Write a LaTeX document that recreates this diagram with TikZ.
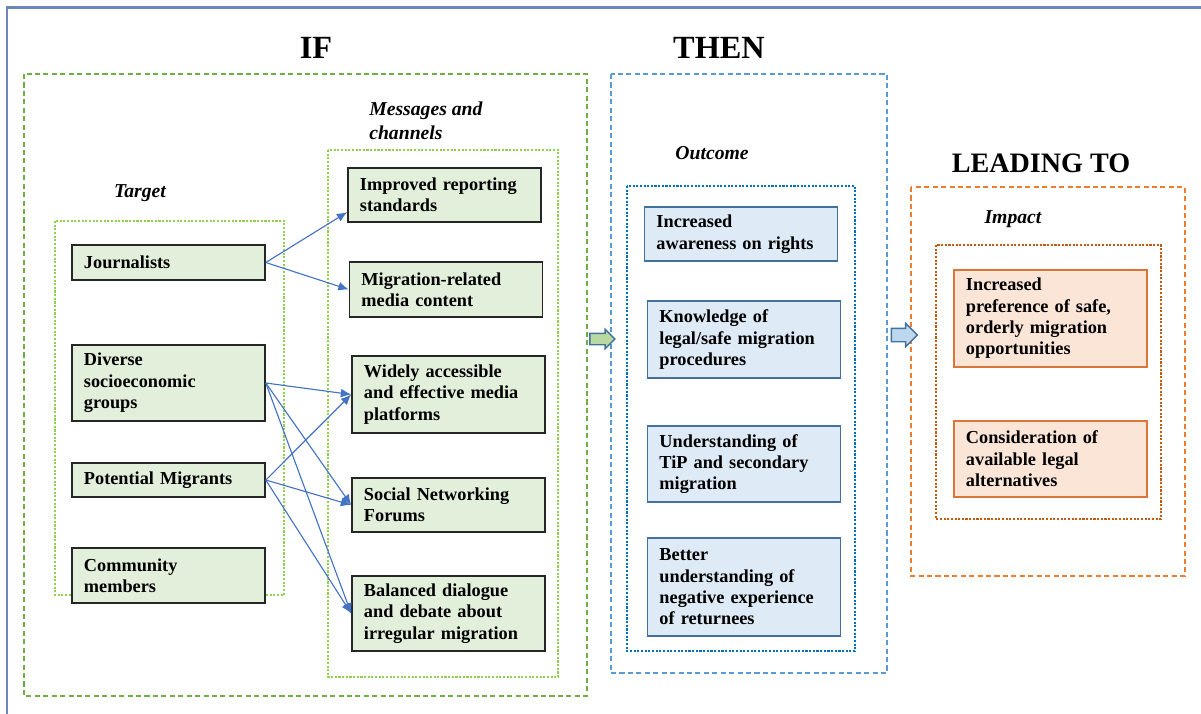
\documentclass[tikz,border=0pt]{standalone}
\usepackage{fontspec}
\setmainfont{Liberation Serif}
\usetikzlibrary{arrows.meta, positioning, shapes.arrows}

\definecolor{boxgreen}{HTML}{E2EFDA}
\definecolor{boxblue}{HTML}{DEEBF7}
\definecolor{boxorange}{HTML}{FBE5D6}
\definecolor{linkblue}{HTML}{4472C4}
\definecolor{edgeblue}{HTML}{41719C}
\definecolor{edgeorange}{HTML}{D9773A}
\definecolor{frameblue}{HTML}{6F87B8}
\definecolor{dashgreen}{HTML}{70AD47}
\definecolor{dotgreen}{HTML}{92D050}
\definecolor{dashblue}{HTML}{5B9BD5}
\definecolor{dotblue}{HTML}{0070C0}
\definecolor{dashorange}{HTML}{ED7D31}
\definecolor{dotorange}{HTML}{C55A11}
\definecolor{bigarrowgreen}{HTML}{B8D9A0}
\definecolor{bigarrowblue}{HTML}{BDD7EE}

\tikzset{
  item/.style={rectangle, line width=1.1pt, text width=4.225cm, inner xsep=0.3cm,
    inner ysep=0pt, align=left, font=\bfseries\fontsize{13}{15.2}\selectfont},
  gitem/.style={item, draw=black!85, fill=boxgreen},
  bitem/.style={item, draw=edgeblue, fill=boxblue},
  oitem/.style={item, draw=edgeorange, fill=boxorange},
  title/.style={font=\bfseries\fontsize{23}{23}\selectfont},
  label/.style={font=\bfseries\itshape\fontsize{14}{17}\selectfont, align=left},
  dashframe/.style={line width=0.9pt, dash pattern=on 3.6pt off 2.4pt},
  dotframe/.style={line width=1.8pt, dash pattern=on 1.5pt off 1.1pt},
  bigarrow/.style={single arrow, draw=edgeblue, line width=1pt, inner xsep=0pt},
}

\begin{document}
\begin{tikzpicture}[x=0.025cm, y=-0.025cm]
\useasboundingbox (0,0) rectangle (1201,713);

\draw[frameblue, line width=1.5pt] (7,730) -- (7,7.5) -- (1215,7.5);

%Frames:
\draw[dashframe, dashgreen] (24,74) rectangle (587,696);
\draw[dotframe, dotgreen] (55,221) rectangle (284,595);
\draw[dotframe, dotgreen] (328,150) rectangle (558,677);
\draw[dashframe, dashblue] (611,74) rectangle (887,673);
\draw[dotframe, dotblue] (627,186) rectangle (855,651);
\draw[dashframe, dashorange] (911,187) rectangle (1185,576);
\draw[dotframe, dotorange] (936,245) rectangle (1161,519);

%Titles:
\node (IF) [title] at (316,48) {IF};
\node (THEN) [title] at (719,48) {THEN};
\node (LEAD) [title, font=\bfseries\fontsize{20}{20}\selectfont] at (1041,163) {LEADING TO};
\node (TG) [label] at (140,193) {Target};
\node (MC) [label, anchor=west, inner xsep=0pt] at (369,121) {Messages and\\channels};
\node (OC) [label] at (712,153) {Outcome};
\node (IM) [label] at (1013,219) {Impact};

%Target:
\node (J) [gitem, minimum height=0.875cm] at (168.5,262.5) {Journalists};
\node (D) [gitem, minimum height=1.9cm] at (168.5,383) {Diverse\\socioeconomic\\groups};
\node (P) [gitem, minimum height=0.85cm] at (168.5,480) {Potential Migrants};
\node (C) [gitem, minimum height=1.375cm] at (168.5,575.5) {Community\\members};

%Messages and channels:
\node (IR) [gitem, minimum height=1.35cm] at (444.5,195) {Improved reporting\\standards};
\node (MR) [gitem, minimum height=1.375cm] at (446,289.5) {Migration-related\\media content};
\node (WA) [gitem, minimum height=1.925cm] at (448.5,394.5) {Widely accessible\\and effective media\\platforms};
\node (SN) [gitem, minimum height=1.35cm] at (448.5,505) {Social Networking\\Forums};
\node (BD) [gitem, minimum height=1.875cm] at (448.5,613.5) {Balanced dialogue\\and debate about\\irregular migration};

%Outcome:
\node (AR) [bitem, minimum height=1.35cm] at (741,234) {Increased\\awareness on rights};
\node (KN) [bitem, minimum height=1.925cm] at (744,339.5) {Knowledge of\\legal/safe migration\\procedures};
\node (UN) [bitem, minimum height=1.9cm] at (744,464) {Understanding of\\TiP and secondary\\migration};
\node (BU) [bitem, minimum height=2.45cm] at (744,587) {Better\\understanding of\\negative experience\\of returnees};

%Impact:
\node (PR) [oitem, minimum height=2.425cm] at (1050.5,318.5) {Increased\\preference of safe,\\orderly migration\\opportunities};
\node (CO) [oitem, minimum height=1.9cm] at (1050.5,459) {Consideration of\\available legal\\alternatives};

%Block arrows:
\node (GA) [bigarrow, fill=bigarrowgreen, inner ysep=0.125cm, single arrow head extend=0.1cm,
  minimum height=0.625cm] at (599.5,339) {};
\node (BA) [bigarrow, fill=bigarrowblue, inner ysep=0.15cm, single arrow head extend=0.125cm,
  minimum height=0.65cm] at (901,335) {};

%Links:
\path [-{Latex[length=2.6mm, width=2.2mm]}, line width=0.8pt, color=linkblue]
(J.east) edge (IR.190)
(J.east) edge (MR.west)
(D.east) edge (WA.west)
(D.east) edge (SN.west)
(D.east) edge (BD.west)
(P.east) edge (WA.west)
(P.east) edge (SN.west)
(P.east) edge (BD.west)
;

\end{tikzpicture}
\end{document}
